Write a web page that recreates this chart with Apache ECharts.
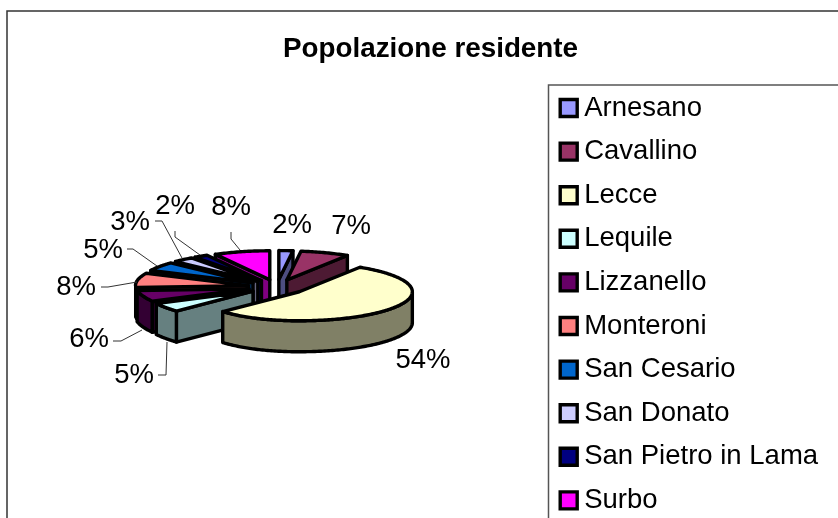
<!DOCTYPE html>
<html>
<head>
<meta charset="utf-8">
<style>html,body{margin:0;padding:0;background:#fff}#c{width:838px;height:518px}</style>
<script src="https://cdn.jsdelivr.net/npm/echarts@6/dist/echarts.min.js"></script>
</head>
<body>
<div id="c"></div>
<script>
const categories = ['Arnesano','Cavallino','Lecce','Lequile','Lizzanello','Monteroni','San Cesario','San Donato','San Pietro in Lama','Surbo'];
const percentages = [2,7,54,5,6,8,5,3,2,8];
const topColors = ['#9999FF','#993366','#FFFFCC','#CCFFFF','#660066','#FF8080','#0066CC','#CCCCFF','#000080','#FF00FF'];
const sideColors = ['#4D4D80','#4D1A33','#808066','#668080','#330033','#804040','#003366','#666680','#000040','#800080'];
const labelCentres = [[292,225],[351,226],[423,360],[134,375],[89,339],[76,287],[103,250],[130,222],[175,206],[231,207]];
const leaderPaths = [null,null,null,
  [[158,375],[166,375],[167,342]],
  [[113,341],[121,341],[142,330]],
  [[101,287],[108,287],[137,282]],
  [[127,249],[133,249],[157,266]],
  [[155,221],[162,221],[182,258]],
  [[175,231],[175,237],[200,255]],
  [[231,232],[231,239],[240,250]]];

const FONT = '"Liberation Sans", Arial, sans-serif';
const geo = {cx:277, cy:287, rx:113, ry:29, explode:29, depth:31, frontLeftSquash:0.14};
const total = percentages.reduce((a,b)=>a+b,0);
const spans = [];
percentages.reduce((acc,v)=>{spans.push([acc/total*2*Math.PI,(acc+v)/total*2*Math.PI]);return acc+v;},0);

// elliptical rim point; the front-left quadrant is slightly foreshortened, as in the 3-D view
function pt(c,a,rx,ry){
  const s=Math.sin(a), co=Math.cos(a);
  const squash=(s<0&&co<0)?1-geo.frontLeftSquash*s*co:1;
  return [c[0]+s*rx*squash, c[1]-co*ry];
}
function down(p){return [p[0],p[1]+geo.depth];}

function sliceShapes(i){
  const [a0,a1]=spans[i], mid=(a0+a1)/2, k=geo.ry/geo.rx;
  const apex=[geo.cx+Math.sin(mid)*geo.explode, geo.cy-Math.cos(mid)*geo.explode*k];
  const arc=[]; const n=Math.max(2,Math.ceil((a1-a0)/(Math.PI/180)));
  for(let j=0;j<=n;j++) arc.push(pt(apex,a0+(a1-a0)*j/n,geo.rx,geo.ry));
  const base={fill:sideColors[i],stroke:'#000',lineWidth:3.4,lineJoin:'round'};
  const kids=[];
  const wall=pts=>kids.push({type:'polygon',shape:{points:pts},style:Object.assign({},base)});
  const pA=arc[0], pB=arc[arc.length-1];
  if(Math.sin(a0)<-1e-6) wall([apex,pA,down(pA),down(apex)]);
  if(Math.sin(a1)>1e-6) wall([apex,pB,down(pB),down(apex)]);
  const front=[];
  for(let j=0;j<=n;j++){const a=a0+(a1-a0)*j/n; if(Math.cos(a)<=0) front.push(arc[j]);}
  if(front.length>1) wall(front.concat(front.slice().reverse().map(down)));
  kids.push({type:'polygon',shape:{points:[apex].concat(arc)},style:Object.assign({},base,{fill:topColors[i]})});
  return kids;
}

function labelShapes(i){
  const kids=[];
  if(leaderPaths[i]) kids.push({type:'polyline',shape:{points:leaderPaths[i]},style:{fill:null,stroke:'#333',lineWidth:1}});
  kids.push({type:'text',z2:50,style:{text:percentages[i]+'%',x:labelCentres[i][0],y:labelCentres[i][1],font:'27.5px '+FONT,fill:'#000',align:'center',verticalAlign:'middle'}});
  return kids;
}

const depthOrder = percentages.map((_,i)=>i).sort((p,q)=>
  Math.cos((spans[q][0]+spans[q][1])/2)-Math.cos((spans[p][0]+spans[p][1])/2));

const series = categories.map((name,i)=>({
  type:'custom', name, coordinateSystem:'none', silent:true,
  z: 2+depthOrder.indexOf(i),
  itemStyle:{color:topColors[i]},
  data:[percentages[i]],
  renderItem:()=>({type:'group',children:sliceShapes(i).concat(labelShapes(i))})
}));

const chart = echarts.init(document.getElementById('c'),null,{renderer:'canvas'});
chart.setOption({
  animation:false,
  backgroundColor:'#fff',
  title:{text:'Popolazione residente',left:283,top:35,padding:0,
    textStyle:{fontFamily:FONT,fontSize:27.8,fontWeight:'bold',color:'#000'}},
  graphic:[
    {type:'rect',z:0,shape:{x:7,y:11,width:860,height:540},style:{fill:'#fff',stroke:'#333',lineWidth:1.5}},
    {type:'rect',z:0,shape:{x:548.5,y:85,width:320,height:460},style:{fill:'#fff',stroke:'#555',lineWidth:1.5}}
  ],
  legend:{
    orient:'vertical',left:558.5,top:94,padding:0,height:500,
    data:categories,icon:'rect',itemWidth:17,itemHeight:17,itemGap:15.6,
    itemStyle:{borderColor:'#000',borderWidth:3.4},
    textStyle:{fontFamily:FONT,fontSize:27.5,color:'#000',padding:[0,0,0,2]},
    selectedMode:false
  },
  series
});
</script>
</body>
</html>
